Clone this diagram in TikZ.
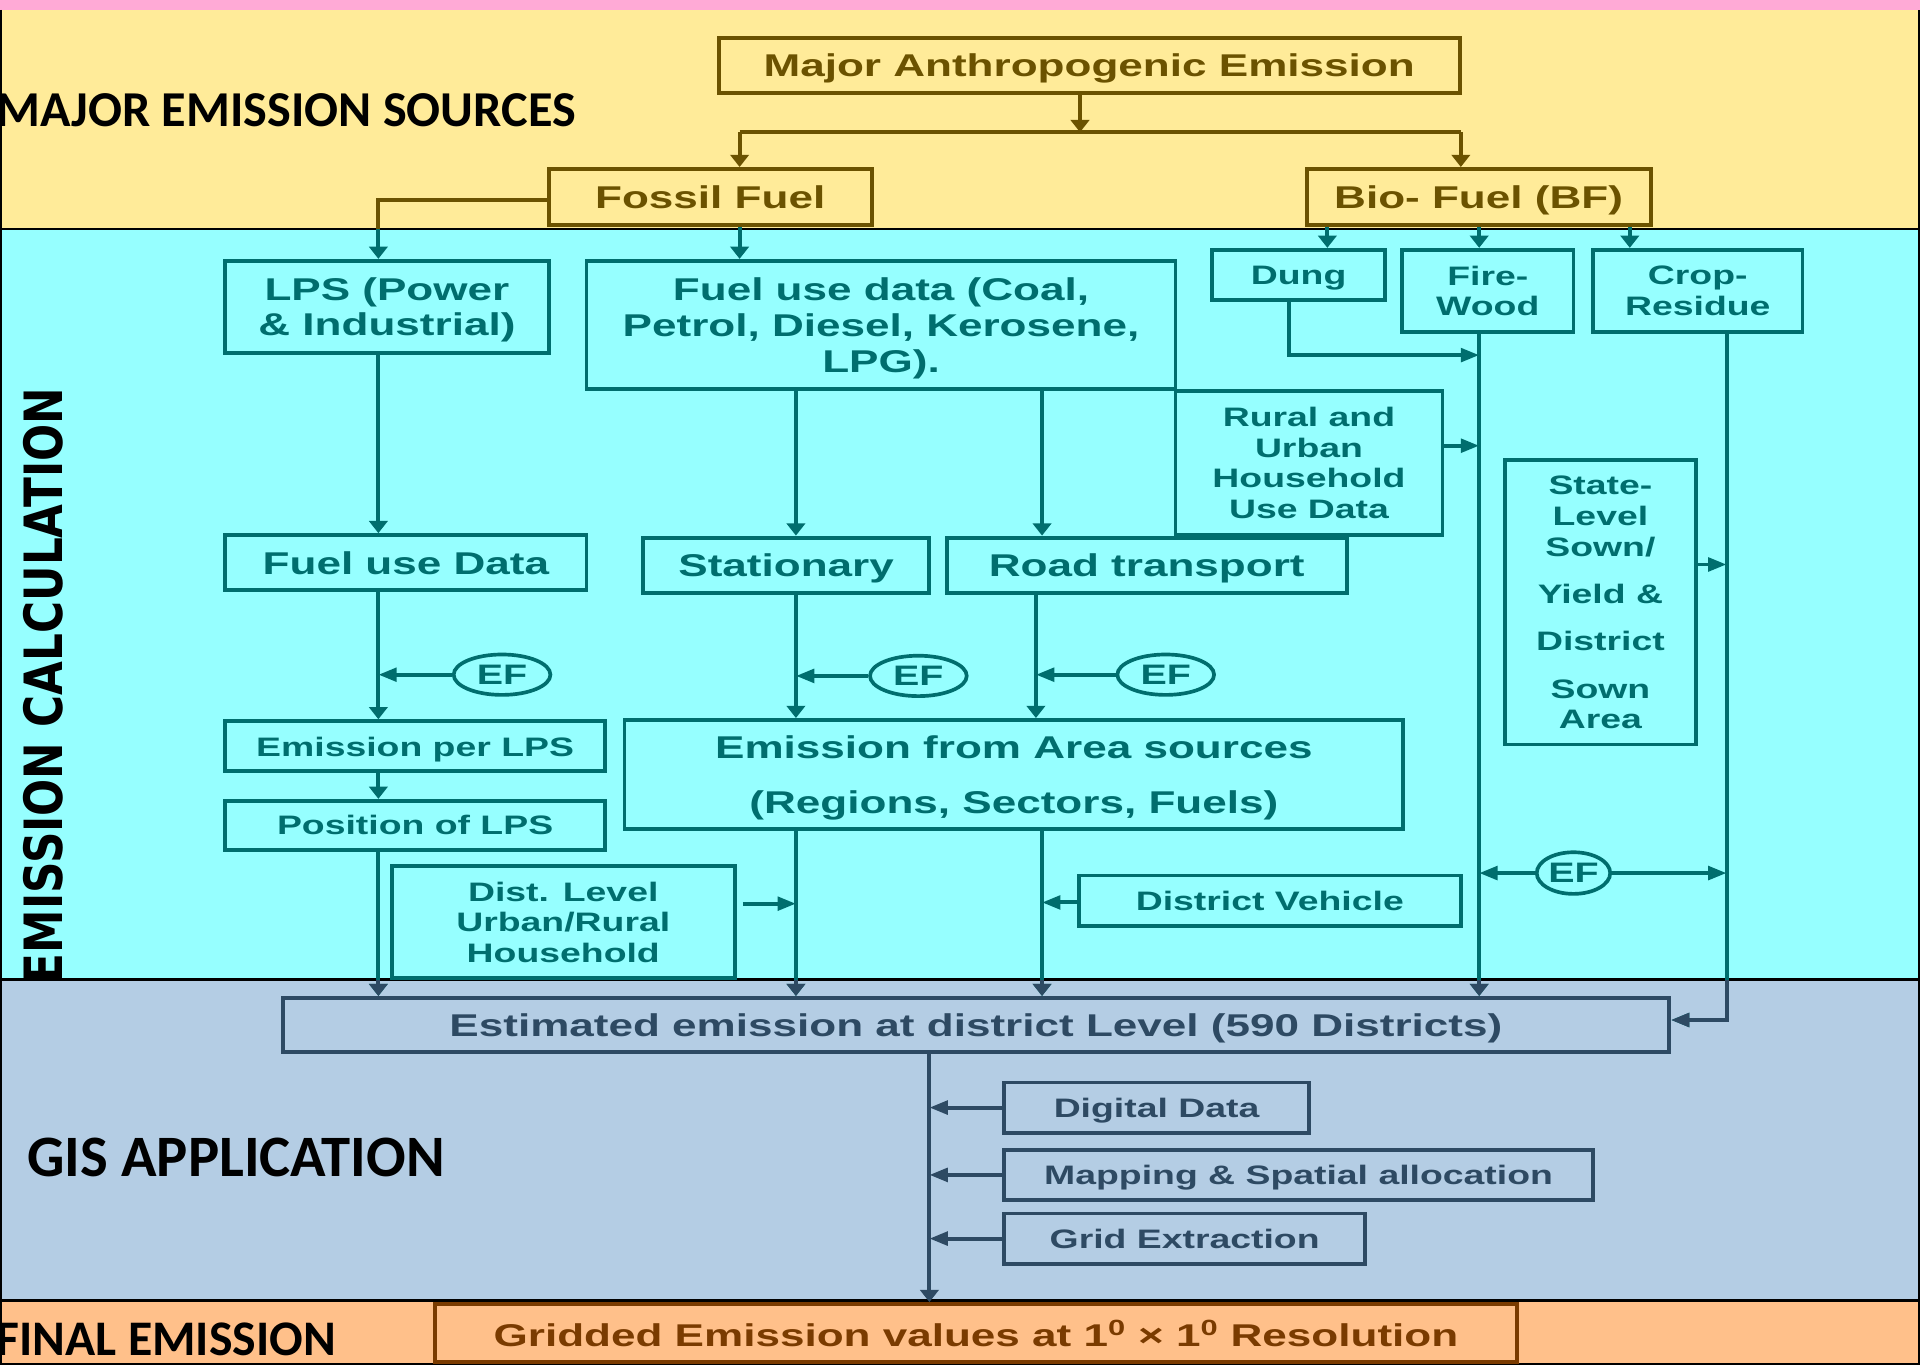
\documentclass[tikz,border=0pt]{standalone}
\usepackage{fontspec}
\usepackage{graphicx}
\usetikzlibrary{shapes.geometric,arrows.meta}

\newfontfamily\boxfont{Liberation Sans}[FakeStretch=1.4]
\newfontfamily\labelfont{Carlito}
\newfontfamily\sidefont{DejaVu Sans}

\newcommand\bigtxt{\boxfont\bfseries\fontsize{25.7pt}{29pt}\selectfont}
\newcommand\smalltxt{\boxfont\bfseries\fontsize{21.8pt}{25pt}\selectfont}
\newcommand\eftxt{\boxfont\bfseries\fontsize{23pt}{26pt}\selectfont}

\definecolor{pinkband}{HTML}{FFAAD6}
\definecolor{yellowband}{HTML}{FFEB99}
\definecolor{cyanband}{HTML}{96FFFF}
\definecolor{steelband}{HTML}{B4CDE4}
\definecolor{orangeband}{HTML}{FFC08A}
\definecolor{brownc}{HTML}{6B5200}
\definecolor{tealc}{HTML}{006E6E}
\definecolor{slatec}{HTML}{2E4A63}
\definecolor{rustc}{HTML}{7A3B00}

\tikzset{
  box/.style={draw, line width=3.2pt, inner sep=0pt, align=center, text depth=0pt},
  topbox/.style={box, draw=brownc, text=brownc, font=\bigtxt},
  calcbig/.style={box, draw=tealc, text=tealc, font=\bigtxt},
  calcsmall/.style={box, draw=tealc, text=tealc, font=\smalltxt},
  gisbig/.style={box, draw=slatec, text=slatec, font=\bigtxt},
  gissmall/.style={box, draw=slatec, text=slatec, font=\smalltxt},
  finalbox/.style={box, draw=rustc, text=rustc, font=\bigtxt},
  efnode/.style={ellipse, draw=tealc, text=tealc, line width=3pt, inner sep=0pt,
    minimum width=79pt, minimum height=33pt, font=\eftxt},
  bline/.style={draw=brownc, line width=3.2pt},
  tline/.style={draw=tealc, line width=3.2pt},
  sline/.style={draw=slatec, line width=3.2pt},
  varr/.style={-{Triangle[length=10pt,width=15pt]}},
  harr/.style={-{Triangle[length=15pt,width=11pt]}},
  bandrule/.style={draw=black, line width=2pt},
  sectionlabel/.style={inner sep=0pt, text=black}
}

% connectors that run down into the district-level box
\newcommand\estfeeds[1]{%
  \draw[#1,varr] (pos.south -| lx) -- (lx |- est.north);
  \draw[#1,varr] (area.south -| sx) -- (sx |- est.north);
  \draw[#1,varr] (area.south -| rx) -- (rx |- est.north);
  \draw[#1,varr] (fire.south -| fwx) -- (fwx |- est.north);
  \draw[#1,harr] (crop.south -| cpx) -- (cpx) -- (cpx -| est.east);
}

\begin{document}
\begin{tikzpicture}[x=1pt,y=-1pt]
\useasboundingbox (0,0) rectangle (1568,1115);

% bands
\fill[pinkband] (0,0) rectangle (1568,8);
\fill[yellowband] (0,8) rectangle (1568,187);
\fill[cyanband] (0,187) rectangle (1568,800);
\fill[steelband] (0,800) rectangle (1568,1062);
\fill[orangeband] (0,1062) rectangle (1568,1115);
\draw[bandrule] (0,187) -- (1568,187);
\draw[bandrule] (0,800) -- (1568,800);
\draw[bandrule] (0,1062) -- (1568,1062);
\draw[bandrule] (1,8) -- (1,1114) -- (1567,1114) -- (1567,8);

% section labels
\node[sectionlabel, anchor=base west] (lblsources) at (-3,103)
  {\resizebox{473pt}{!}{\labelfont\bfseries MAJOR EMISSION SOURCES}};
\node[sectionlabel, anchor=base west, rotate=90] (lblcalc) at (51,803)
  {\resizebox{486pt}{32pt}{\sidefont\bfseries EMISSION CALCULATION}};
\node[sectionlabel, anchor=base west] (lblgis) at (22,961)
  {\resizebox{341pt}{!}{\labelfont\bfseries GIS APPLICATION}};
\node[sectionlabel, anchor=base west] (lblfinal) at (-3,1107)
  {\resizebox{277pt}{!}{\labelfont\bfseries FINAL EMISSION}};

% sources
\node[topbox, minimum width=605pt, minimum height=45pt] (major) at (889.5,53.5) {Major Anthropogenic Emission};
\node[topbox, minimum width=264pt, minimum height=46pt] (fossil) at (580,161) {Fossil Fuel};
\node[topbox, minimum width=281pt, minimum height=46pt] (bio) at (1207.5,161) {Bio- Fuel (BF)};

% emission calculation
\node[calcbig, minimum width=264pt, minimum height=75pt] (lps) at (316,250.5) {LPS (Power\\\& Industrial)};
\node[calcbig, minimum width=481pt, minimum height=105pt] (fueldata) at (719.5,265.5) {Fuel use data (Coal,\\Petrol, Diesel, Kerosene,\\LPG).};
\node[calcsmall, minimum width=141pt, minimum height=41pt] (dung) at (1060.5,224.5) {Dung};
\node[calcsmall, minimum width=140pt, minimum height=67pt] (fire) at (1215,237.5) {Fire-\\Wood};
\node[calcsmall, minimum width=171pt, minimum height=67pt] (crop) at (1386.5,237.5) {Crop-\\Residue};
\node[calcsmall, minimum width=218pt, minimum height=118pt] (rural) at (1069,378) {Rural and\\Urban\\Household\\Use Data};
\node[calcsmall, minimum width=156pt, minimum height=232pt] (state) at (1307,492)
  {State-\\Level\\Sown/\\[14pt]Yield \&\\[13pt]District\\[14pt]Sown\\Area};
\node[calcbig, minimum width=295pt, minimum height=45pt] (fud) at (331.5,459.5) {Fuel use Data};
\node[calcbig, minimum width=234pt, minimum height=45pt] (stat) at (642,461.5) {Stationary};
\node[calcbig, minimum width=327pt, minimum height=45pt] (road) at (936.5,461.5) {Road transport};
\node[efnode] (ef1) at (410,551) {EF};
\node[efnode] (ef2) at (750,552) {EF};
\node[efnode] (ef3) at (952,551) {EF};
\node[efnode, minimum width=60pt, minimum height=34pt] (ef4) at (1285,713) {EF};
\node[calcsmall, minimum width=310pt, minimum height=41pt] (eplps) at (339,609.5) {Emission per LPS};
\node[calcsmall, minimum width=310pt, minimum height=40pt] (pos) at (339,674) {Position of LPS};
\node[calcbig, minimum width=636pt, minimum height=89pt] (area) at (828,632.5) {Emission from Area sources\\[16pt](Regions, Sectors, Fuels)};
\node[calcsmall, minimum width=280pt, minimum height=92pt] (dist) at (460,753) {Dist. Level\\Urban/Rural\\Household};
\node[calcsmall, minimum width=312pt, minimum height=41pt] (dveh) at (1037,735.5) {District Vehicle};

% GIS application
\node[gisbig, minimum width=1132pt, minimum height=44pt] (est) at (797,837) {Estimated emission at district Level (590 Districts)};
\node[gissmall, minimum width=249pt, minimum height=41pt] (dig) at (944.5,904.5) {Digital Data};
\node[gissmall, minimum width=481pt, minimum height=41pt] (map) at (1060.5,959.5) {Mapping \& Spatial allocation};
\node[gissmall, minimum width=295pt, minimum height=41pt] (grid) at (967.5,1011.5) {Grid Extraction};

% final emission
\node[finalbox, minimum width=884pt, minimum height=47pt] (gridded) at (797,1088.5)
  {Gridded Emission values at 1\textsuperscript{0} × 1\textsuperscript{0} Resolution};

% junction points of the connectors
\coordinate (hub) at (882,108);
\coordinate (hubL) at (604,108);
\coordinate (hubR) at (1193,108);
\coordinate (lpsx) at (309,163);
\coordinate (bx1) at (1084,200);
\coordinate (bx3) at (1331,200);
\coordinate (dgx) at (1053,290);
\coordinate (fwx) at (1208,290);
\coordinate (ruj) at (1208,364);
\coordinate (cpx) at (1410,833);
\coordinate (stj) at (1410,461);
\coordinate (lx) at (309,551);
\coordinate (sx) at (650,552);
\coordinate (rx) at (851,551);
\coordinate (rx2) at (846,551);
\coordinate (dj) at (650,738);
\coordinate (vj) at (851,737);
\coordinate (gx) at (759,900);

% source connectors
\draw[bline,varr] (major.south -| hub) -- (hub);
\draw[bline] (hubL) -- (hubR);
\draw[bline,varr] (hubL) -- (hubL |- fossil.north);
\draw[bline,varr] (hubR) -- (hubR |- bio.north);
\draw[tline,varr] (fossil.west |- lpsx) -- (lpsx) -- (lpsx |- lps.north);
\begin{scope}
  \clip (0,8) rectangle (1568,187);
  \draw[bline] (fossil.west |- lpsx) -- (lpsx) -- (lpsx |- lps.north);
\end{scope}
\draw[tline,varr] (fossil.south -| hubL) -- (hubL |- fueldata.north);
\draw[tline,varr] (bio.south -| bx1) -- (bx1 |- dung.north);
\draw[tline,varr] (bio.south -| fwx) -- (fwx |- fire.north);
\draw[tline,varr] (bio.south -| bx3) -- (bx3 |- crop.north);

% calculation connectors
\draw[tline,harr] (dung.south -| dgx) -- (dgx) -- (fwx);
\draw[tline,harr] (rural.east |- ruj) -- (ruj);
\draw[tline,harr] (state.east |- stj) -- (stj);
\draw[tline,harr] (ef4.west) -- (ef4.west -| fwx);
\draw[tline,harr] (ef4.east) -- (ef4.east -| cpx);
\draw[tline,varr] (lps.south -| lx) -- (lx |- fud.north);
\draw[tline,varr] (fud.south -| lx) -- (lx |- eplps.north);
\draw[tline,harr] (ef1.west) -- (ef1.west -| lx);
\draw[tline,varr] (eplps.south -| lx) -- (lx |- pos.north);
\draw[tline,varr] (fueldata.south -| sx) -- (sx |- stat.north);
\draw[tline,varr] (fueldata.south -| rx) -- (rx |- road.north);
\draw[tline,varr] (stat.south -| sx) -- (sx |- area.north);
\draw[tline,varr] (road.south -| rx2) -- (rx2 |- area.north);
\draw[tline,harr] (ef2.west) -- (ef2.west -| sx);
\draw[tline,harr] (ef3.west) -- (ef3.west -| rx2);
\draw[tline,harr] ([xshift=5pt]dist.east |- dj) -- (dj);
\draw[tline,harr] (dveh.west |- vj) -- (vj);
\estfeeds{tline}
\begin{scope}
  \clip (0,801) rectangle (1568,1062);
  \estfeeds{sline}
\end{scope}

% GIS connectors
\draw[sline,varr] (est.south -| gx) -- (gx |- gridded.north);
\draw[sline,harr] (dig.west) -- (dig.west -| gx);
\draw[sline,harr] (map.west) -- (map.west -| gx);
\draw[sline,harr] (grid.west) -- (grid.west -| gx);
\end{tikzpicture}
\end{document}
